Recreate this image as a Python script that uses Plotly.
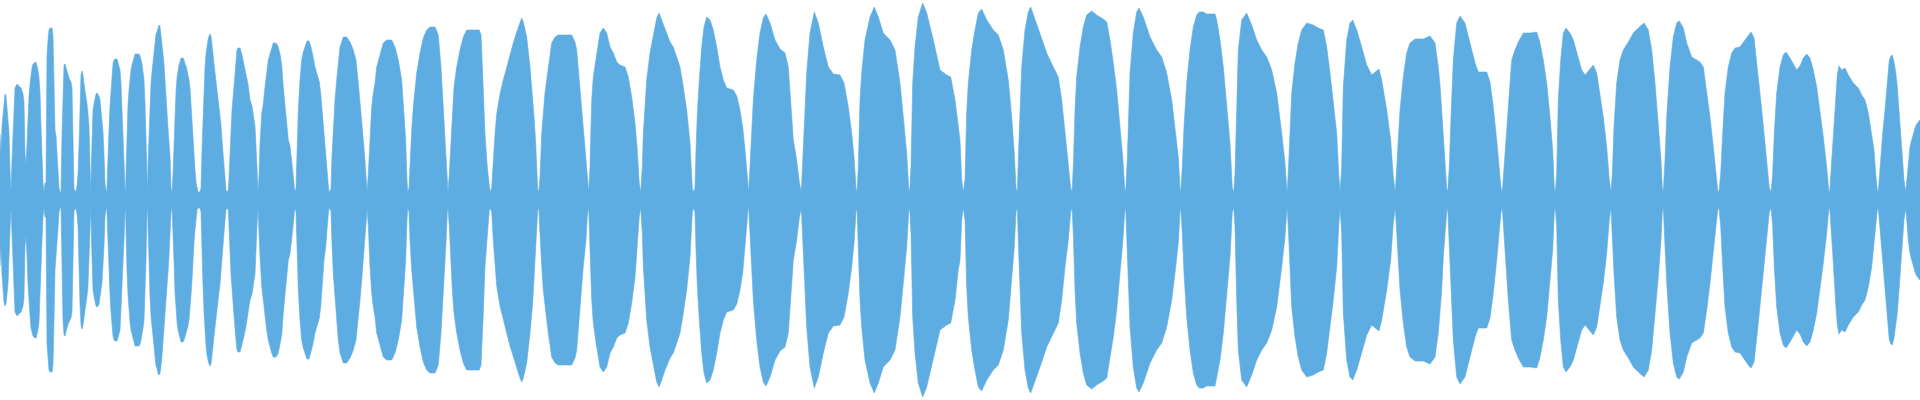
import plotly.graph_objects as go

# Waveform envelope (upper half; the chart is mirrored about zero).
# t: sample position, amp: normalised amplitude.
t = [
    0, 1, 2, 3, 4, 5, 6, 7, 8, 9, 10, 11,
    12, 13, 14, 15, 17, 19, 21, 23, 24, 25, 26,
    27, 28, 29, 30, 31, 32, 33, 35, 36, 37, 38, 39, 40, 41, 42, 43, 44,
    45, 46, 47, 48, 49, 50, 52, 53, 54, 55, 56, 58, 59, 60, 61,
    62, 63, 64, 65, 66, 67, 68, 69, 70, 71, 72, 73, 74, 75, 76,
    77, 78, 79, 80, 81, 82, 83, 84, 85, 86, 87, 88, 89, 90, 90.8,
    91.5, 92, 93, 94, 95, 96, 97, 98, 99, 100, 101, 102, 103, 104, 105, 106, 106.8,
    107.5, 108, 109, 110, 111, 112, 113, 114, 115, 117, 118, 119, 120, 121, 122, 123, 124, 125, 125.5,
    126, 127, 128, 129, 130, 131, 132, 133, 134, 135, 139, 140, 141, 142, 143, 144, 145, 146, 147, 147.5,
    148, 149, 150, 151, 152, 153, 154, 155, 156, 157, 158, 159, 160, 161, 162, 163, 164, 165, 166, 167, 168, 169, 170, 171, 172,
    173, 174, 175, 176, 177, 178, 179, 180, 181, 183, 184, 185, 186, 187, 188, 189, 190, 191, 192, 193, 194, 195, 196, 197, 198, 200,
    201, 202, 203, 204, 205, 206, 207, 208, 209, 210, 211, 212, 213, 214, 215, 216, 217, 218, 219, 220, 221, 222, 223, 224, 225, 226, 227.3,
    228.3, 229, 230, 231, 232, 233, 234, 235, 236, 237, 238, 240, 242, 244, 246, 248, 250, 252, 253.3, 255, 256, 257, 258,
    259, 260, 261.7, 263.3, 265, 266.7, 268.3, 270, 271.7, 273.3, 276, 278.3, 280, 281.7, 283.3, 285, 286.7, 288.3, 290, 291.7, 293.3, 294.3, 295,
    296, 297.3, 298.3, 300, 301.7, 303.3, 305, 307, 309, 310.7, 312.7, 315, 317.3, 319.3, 320.7, 322.7, 324, 326, 327.3, 328.7, 330,
    331, 332, 333.3, 335, 336.7, 338.3, 340, 341.7, 343.3, 346.7, 350, 353.3, 356, 358.3, 360, 361.7, 363.3, 365, 366.3, 367,
    368.3, 370, 371.7, 373.3, 375, 376.7, 380, 383.3, 386.7, 391.7, 395, 398.3, 401.7, 404, 405.7, 407, 407.7,
    409, 410, 411.7, 413.3, 415, 416.7, 420, 423.3, 426.7, 430, 435, 438.3, 441, 442.7, 444.3, 446, 447.3, 448,
    449.3, 450.7, 452.3, 454, 456.7, 460, 463.3, 466.7, 479.3, 481, 481.7, 483.3, 485, 487.3, 489.3, 490,
    491.7, 493.3, 495, 496.7, 500, 503.3, 506.7, 510, 513.3, 516.7, 520, 521.7, 523.3, 526.7, 530, 532.7, 534.3, 535.7, 536.7, 537.7, 538.7,
    540, 541.7, 543.3, 545, 546.7, 548.3, 550, 551.7, 555, 558.3, 571.7, 575, 576.7, 580, 583.3, 586, 587.3, 588.7,
    590, 591.7, 593.3, 596.7, 600, 603.3, 606.7, 610, 613.3, 616.7, 620, 625, 628.3, 631.7, 635, 637.3, 639.3, 640.7,
    642.3, 643.3, 645, 646.7, 650, 653.3, 656.7, 659, 661.7, 665, 670, 673.3, 676.7, 680, 683.3, 686.7, 690, 692.3, 693.3,
    695, 696, 697.3, 699.3, 701.7, 704, 706.7, 710, 713.3, 716.7, 720, 723.3, 726.7, 733.3, 736.7, 740, 742.7, 745, 746.7, 748, 748.7,
    750, 751.7, 753.3, 756.7, 760, 763.3, 766, 770, 775, 780, 785, 788.3, 790.7, 793.3, 796.7, 799.3, 801.3,
    803.3, 805, 806.7, 810, 814.3, 818.3, 823.3, 828.3, 833.3, 840, 844, 848.3, 851.7, 854.3, 856, 857,
    858.3, 860, 861.7, 865, 870, 874.3, 878.3, 883.3, 890, 895, 900, 903.3, 906.7, 908.7, 909.7,
    911, 912.7, 915, 918.3, 922.7, 926.7, 933.3, 940, 946.7, 950.7, 955, 958.3, 960, 961.7, 963.3,
    965, 966.7, 968.3, 971.7, 975, 978.3, 981.7, 986.7, 993.3, 998.3, 1003.3, 1008.3, 1011.7, 1014.3, 1016, 1017.3,
    1019, 1020, 1021.7, 1025, 1028.3, 1030.7, 1035, 1040, 1046.7, 1053.3, 1058.3, 1061.7, 1065, 1068.3, 1070.7, 1072,
    1073.3, 1075, 1076.7, 1080, 1083.3, 1086.7, 1091.7, 1096.7, 1103.3, 1106.7, 1110, 1113.3, 1116.7, 1120, 1122.7, 1124.7, 1125.7,
    1127.3, 1128.3, 1130, 1133.3, 1136.7, 1139, 1143.3, 1150, 1156.7, 1161.7, 1166.7, 1171.7, 1175, 1178.3, 1180, 1180.7,
    1182.3, 1184, 1186.7, 1190, 1193.3, 1196.7, 1199.3, 1203.3, 1206.7, 1215, 1216.7, 1220, 1223.3, 1226.7, 1230, 1232.3, 1233.7,
    1235, 1236.7, 1238.3, 1241.7, 1246.7, 1251.7, 1256.7, 1261.7, 1266.7, 1271.7, 1276.7, 1281.7, 1285, 1286.7, 1287.3,
    1289, 1291.7, 1295, 1298.3, 1301.7, 1306.7, 1313.3, 1318.3, 1323.3, 1326.7, 1330, 1333.3, 1336.7, 1338.7, 1340,
    1341.7, 1343.3, 1346.7, 1350, 1352.7, 1356.7, 1361.7, 1366.7, 1371.7, 1375, 1379, 1381.7, 1386.7, 1390.7, 1393.3, 1395.3,
    1396.7, 1398.3, 1400, 1403.3, 1406.7, 1410, 1415, 1423.3, 1430, 1435, 1438.3, 1440, 1441.7, 1443.3, 1445, 1446.7, 1447.7,
    1449.3, 1451, 1453.3, 1456.7, 1460, 1465, 1470, 1475, 1478.3, 1486.7, 1490, 1493.3, 1496.7, 1499.3, 1501, 1502.3,
    1504, 1506, 1508.3, 1511.7, 1515, 1518.3, 1523.3, 1530, 1536.7, 1540, 1543.3, 1546.7, 1550, 1552.7, 1554.3, 1555.3,
    1556.7, 1558.3, 1560.7, 1563.3, 1566, 1570, 1573.3, 1578.3, 1581.7, 1585, 1589.3, 1593.3, 1596.7, 1600, 1603.3, 1606.7, 1609.3, 1611,
    1612.3, 1614, 1616.7, 1620, 1623.3, 1628.3, 1633.3, 1638.3, 1644, 1648.3, 1651.7, 1655, 1658.3, 1661, 1662.3, 1663.3,
    1665, 1666.7, 1670, 1673.3, 1676.7, 1679.3, 1683.3, 1686.7, 1691.7, 1696.7, 1700, 1703.3, 1706.7, 1710, 1713.3, 1716, 1717.7, 1719,
    1720.7, 1722.7, 1725, 1728.3, 1731.7, 1735, 1740, 1745, 1748.3, 1751, 1754, 1757.3, 1760.7, 1764, 1767.3, 1769.3, 1771,
    1772.7, 1774.3, 1776.7, 1780, 1783.3, 1786, 1790, 1796.7, 1800, 1803.3, 1806.7, 1810, 1813.3, 1816.7, 1820, 1823.3, 1826.7, 1828.7, 1829.7,
    1830.7, 1832.7, 1834.3, 1836, 1837.3, 1839, 1841.7, 1845, 1848.3, 1853.3, 1858.3, 1861.7, 1865, 1868.3, 1871.7, 1874, 1876, 1877.3, 1878.3,
    1879.3, 1882.7, 1885, 1887.3, 1889.3, 1891, 1892.3, 1894, 1895.7, 1897.3, 1899, 1900.7, 1902.3, 1904, 1905.7,
    1906.7, 1908.3, 1910, 1911.7, 1913.3, 1915, 1916.7, 1919, 1920,
]

amp = [
    .33, .23, .37, .44, .51, .53, .52, .47, .42, .34, .15, .04,
    .20, .30, .43, .56, .58, .57, .56, .53, .49, .23, .18,
    .28, .42, .52, .58, .64, .66, .68, .69, .69, .67, .65, .61, .54, .37, .20, .085, .04,
    .085, .085, .72, .80, .85, .86, .86, .82, .60, .35, .32, .14, .06, .04, .04,
    .32, .60, .675, .68, .66, .64, .62, .61, .60, .59, .56, .30, .05, .05, .04,
    .07, .13, .27, .52, .625, .645, .625, .58, .55, .52, .48, .43, .37, .17, .04,
    .20, .33, .45, .48, .51, .53, .535, .53, .52, .50, .45, .41, .34, .23, .08, .05, .04,
    .14, .25, .35, .47, .56, .63, .68, .70, .705, .705, .69, .67, .65, .58, .43, .31, .20, .06, .04,
    .13, .35, .475, .55, .61, .65, .675, .70, .71, .73, .73, .72, .70, .68, .64, .60, .48, .30, .05, .04,
    .175, .32, .475, .58, .64, .69, .73, .78, .83, .84, .867, .875, .867, .83, .78, .73, .68, .58, .51, .44, .36, .28, .22, .06, .04,
    .13, .30, .46, .54, .61, .65, .675, .69, .71, .71, .70, .68, .67, .65, .63, .60, .56, .475, .40, .28, .21, .15, .09, .05, .04, .04,
    .06, .25, .425, .56, .665, .73, .775, .80, .82, .83, .82, .785, .73, .68, .64, .575, .535, .50, .46, .42, .375, .30, .225, .175, .10, .05, .04,
    .05, .11, .25, .37, .45, .51, .58, .65, .70, .75, .76, .76, .725, .68, .63, .58, .50, .47, .425, .37, .27, .125, .04,
    .12, .28, .43, .48, .565, .65, .70, .73, .765, .785, .785, .765, .73, .675, .565, .48, .38, .30, .27, .20, .12, .06, .04,
    .06, .28, .45, .60, .70, .74, .77, .795, .795, .77, .725, .665, .625, .59, .535, .415, .30, .22, .13, .05, .04,
    .06, .22, .37, .50, .60, .70, .765, .79, .815, .815, .79, .75, .70, .585, .50, .40, .30, .20, .10, .04,
    .13, .33, .465, .535, .585, .665, .725, .785, .80, .80, .765, .70, .60, .45, .30, .10, .04,
    .06, .20, .35, .465, .55, .635, .735, .81, .85, .865, .865, .825, .665, .515, .385, .215, .06, .04,
    .13, .265, .45, .565, .665, .75, .815, .85, .85, .825, .75, .565, .33, .165, .05, .04,
    .06, .20, .33, .43, .53, .60, .665, .73, .785, .84, .89, .91, .89, .815, .665, .515, .40, .285, .15, .05, .04,
    .115, .33, .45, .535, .60, .665, .735, .785, .815, .825, .825, .79, .75, .55, .33, .20, .08, .04,
    .165, .50, .615, .735, .835, .86, .835, .765, .735, .69, .675, .665, .615, .515, .385, .25, .08, .04,
    .165, .33, .485, .60, .735, .815, .91, .935, .90, .85, .79, .765, .715, .665, .565, .45, .285, .06, .04,
    .06, .25, .43, .60, .765, .865, .915, .90, .85, .765, .665, .60, .56, .55, .52, .45, .365, .25, .13, .05, .04,
    .165, .365, .50, .70, .835, .91, .93, .885, .80, .755, .735, .665, .50, .30, .20, .09, .04,
    .25, .465, .635, .835, .94, .885, .765, .665, .63, .625, .585, .465, .335, .20, .06, .04,
    .165, .50, .635, .80, .915, .965, .915, .835, .80, .75, .585, .415, .235, .06, .04,
    .165, .585, .765, .915, .985, .935, .80, .65, .625, .615, .50, .35, .30, .10, .04,
    .10, .435, .585, .75, .85, .935, .955, .90, .85, .825, .75, .60, .415, .235, .06, .04,
    .30, .465, .665, .85, .94, .965, .90, .835, .735, .665, .615, .50, .335, .20, .06, .04,
    .165, .45, .615, .765, .865, .925, .945, .925, .905, .89, .80, .685, .55, .365, .215, .06, .04,
    .20, .415, .635, .835, .94, .96, .915, .815, .75, .715, .635, .50, .365, .215, .06, .04,
    .165, .365, .585, .75, .865, .925, .94, .94, .93, .93, .90, .80, .665, .465, .285, .06, .04,
    .13, .50, .75, .90, .935, .875, .80, .75, .715, .65, .535, .335, .185, .06, .04,
    .215, .535, .685, .785, .85, .885, .875, .86, .85, .765, .635, .50, .335, .13, .04,
    .165, .565, .80, .885, .90, .85, .765, .675, .625, .64, .655, .60, .45, .30, .115, .04,
    .165, .30, .45, .615, .735, .785, .805, .805, .82, .785, .665, .575, .45, .285, .165, .06, .04,
    .165, .415, .70, .885, .92, .885, .785, .685, .64, .64, .59, .465, .30, .165, .06, .04,
    .165, .335, .50, .70, .75, .79, .835, .835, .84, .785, .70, .585, .415, .25, .06, .04,
    .13, .50, .70, .835, .86, .835, .80, .715, .65, .625, .65, .675, .635, .535, .415, .265, .10, .04,
    .13, .365, .585, .70, .75, .79, .835, .86, .885, .85, .75, .585, .385, .20, .06, .04,
    .20, .415, .665, .815, .885, .895, .86, .785, .715, .70, .69, .665, .55, .415, .265, .13, .05, .04,
    .13, .335, .535, .665, .735, .76, .765, .80, .825, .84, .81, .665, .50, .335, .165, .06, .04,
    .13, .335, .535, .665, .725, .74, .71, .65, .67, .71, .73, .71, .65, .565, .45, .315, .165, .05, .04,
    .115, .265, .365, .54, .625, .67, .65, .66, .625, .585, .56, .525, .50, .435, .335, .25, .115, .05, .04,
    .115, .335, .45, .585, .70, .72, .725, .69, .64, .565, .45, .335, .235, .10, .04,
    .10, .20, .265, .30, .335, .36, .38, .395, .40,
]

assert len(t) == len(amp), (len(t), len(amp))

# Closed outline: upper envelope left->right, mirrored lower envelope right->left
x_outline = list(t) + list(reversed(t))
y_outline = list(amp) + [-a for a in reversed(amp)]

fig = go.Figure(
    go.Scatter(
        x=x_outline,
        y=y_outline,
        mode="lines",
        fill="toself",
        fillcolor="#5DADE2",
        line=dict(color="#5DADE2", width=0.6),
        hoverinfo="skip",
        showlegend=False,
    )
)

fig.update_layout(
    width=1920,
    height=400,
    margin=dict(l=0, r=0, t=0, b=0, pad=0),
    paper_bgcolor="white",
    plot_bgcolor="white",
    xaxis=dict(visible=False, range=[0, 1920], fixedrange=True),
    yaxis=dict(visible=False, range=[-1, 1], fixedrange=True),
)

fig.write_html("out.html")
